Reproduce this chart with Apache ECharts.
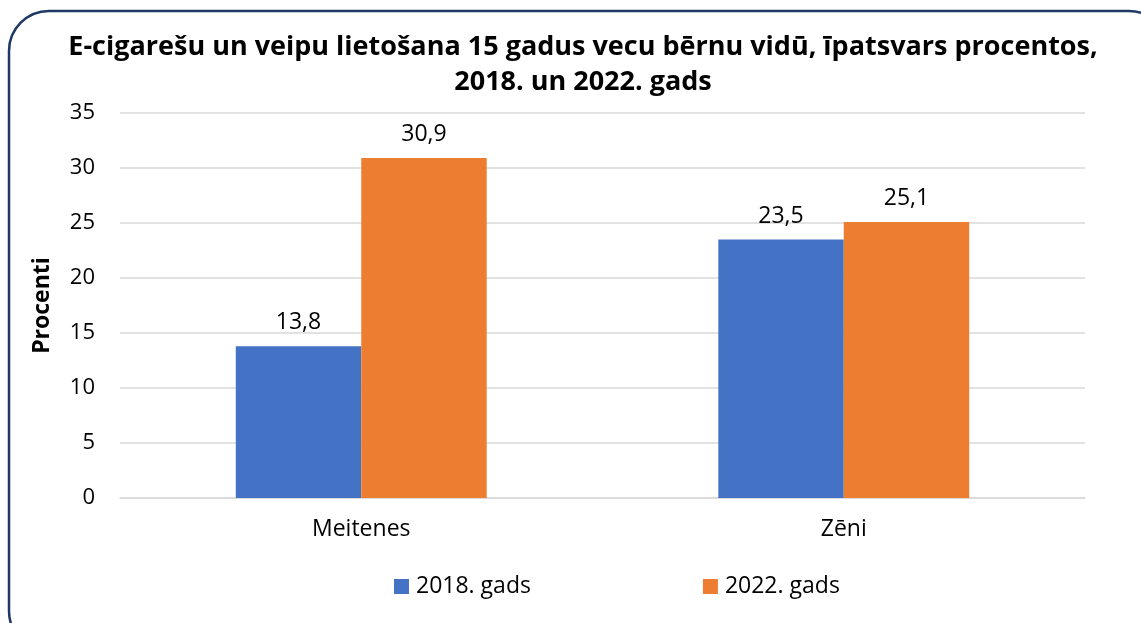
<!DOCTYPE html>
<html>
<head>
<meta charset="utf-8">
<script src="https://cdn.jsdelivr.net/npm/echarts@6/dist/echarts.min.js"></script>
<style>
  html, body { margin: 0; padding: 0; background: #fff; }
  #chart { width: 1141px; height: 623px; }
</style>
</head>
<body>
<div id="chart"></div>
<script>
var categories = ['Meitenes', 'Zēni'];
var seriesNames = ['2018. gads', '2022. gads'];
var values2018 = [13.8, 23.5];
var values2022 = [30.9, 25.1];
var yTicks = [0, 35, 5]; // min, max, interval

var chart = echarts.init(document.getElementById('chart'));
var font = 'Open Sans';

var labelFmt = function (p) {
    return String(p.value).replace('.', ',');
};

var option = {
    backgroundColor: '#fff',
    textStyle: { fontFamily: font },
    title: {
        text: 'E-cigarešu un veipu lietošana 15 gadus vecu bērnu vidū, īpatsvars procentos,\n2018. un 2022. gads',
        left: 578,
        top: 25,
        textAlign: 'center',
        textStyle: { fontFamily: font, fontSize: 27, fontWeight: 'bold', color: '#000', lineHeight: 35 }
    },
    graphic: [{
        type: 'rect',
        shape: { x: 9, y: 11, width: 1160, height: 640, r: 40 },
        style: { fill: 'none', stroke: '#1f3864', lineWidth: 2.5 },
        silent: true
    }],
    legend: {
        bottom: 20,
        left: 389,
        itemWidth: 15,
        itemHeight: 15,
        itemGap: 172,
        icon: 'rect',
        textStyle: { fontFamily: font, fontSize: 23, color: '#000', padding: [0, 0, 0, 2] },
        data: seriesNames
    },
    grid: { left: 120, right: 56, top: 113, bottom: 125 },
    xAxis: {
        type: 'category',
        data: categories,
        axisLine: { lineStyle: { color: '#d9d9d9', width: 1.5 } },
        axisTick: { show: false },
        axisLabel: { color: '#000', fontSize: 23, margin: 20, fontFamily: font }
    },
    yAxis: {
        type: 'value',
        min: yTicks[0],
        max: yTicks[1],
        interval: yTicks[2],
        name: 'Procenti',
        nameLocation: 'middle',
        nameGap: 66,
        nameTextStyle: { fontFamily: font, fontSize: 23, fontWeight: 'bold', color: '#000' },
        axisLine: { show: false },
        axisTick: { show: false },
        axisLabel: { color: '#000', fontSize: 22, margin: 25, fontFamily: font },
        splitLine: { lineStyle: { color: '#d9d9d9', width: 1.5 } }
    },
    series: [
        {
            name: seriesNames[0],
            type: 'bar',
            data: values2018,
            barWidth: '26%',
            barGap: '0%',
            itemStyle: { color: '#4472c4' },
            label: { show: true, position: 'top', distance: 12, color: '#000', fontSize: 23, fontFamily: font, formatter: labelFmt }
        },
        {
            name: seriesNames[1],
            type: 'bar',
            data: values2022,
            barWidth: '26%',
            itemStyle: { color: '#ed7d31' },
            label: { show: true, position: 'top', distance: 12, color: '#000', fontSize: 23, fontFamily: font, formatter: labelFmt }
        }
    ]
};
chart.setOption(option);
</script>
</body>
</html>
